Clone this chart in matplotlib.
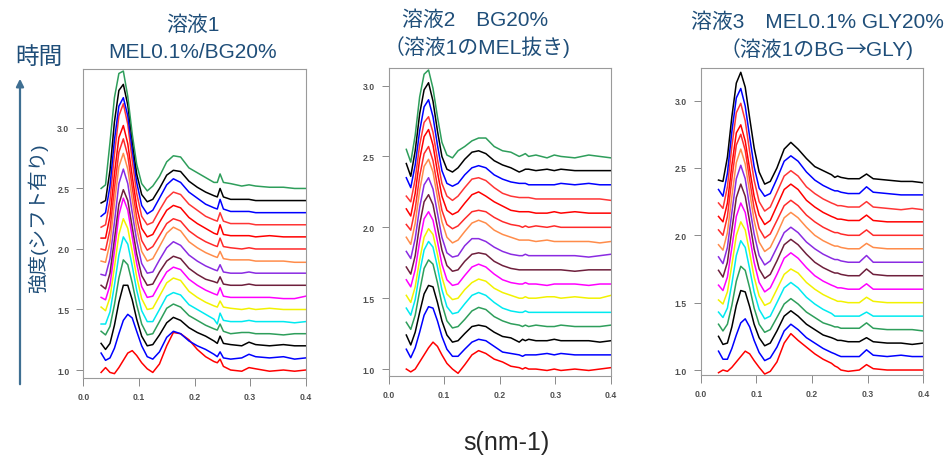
import matplotlib
matplotlib.use("Agg")
import matplotlib.pyplot as plt
from matplotlib.patches import FancyArrowPatch

plt.rcParams['font.family'] = ['Liberation Sans', 'Noto Sans CJK JP', 'DejaVu Sans']

# scattering vector s (nm-1) at which every curve is sampled
s_knots = [0.032, 0.040, 0.048, 0.056, 0.064, 0.072, 0.080, 0.088, 0.096, 0.105,
           0.115, 0.125, 0.137, 0.150, 0.162, 0.175, 0.190, 0.205, 0.220, 0.235,
           0.241, 0.246, 0.252, 0.265, 0.285, 0.298, 0.310, 0.335, 0.360, 0.380, 0.400]

# vertical shift of each successive curve (time order, bottom to top)
offsets = [1.0, 1.1, 1.2, 1.3, 1.4, 1.5, 1.6, 1.7, 1.8, 1.9, 2.0, 2.1, 2.2, 2.3, 2.4, 2.5]

# ---- 溶液1 : intensity above each curve's shift ----
p1_100 = [-0.02, 0.02, -0.02, -0.03, 0.02, 0.08, 0.14, 0.16, 0.12, 0.06, 0.01, -0.02, 0.05, 0.20, 0.31, 0.30, 0.25, 0.17, 0.11, 0.07, 0.06, 0.09, 0.03, 0.00, -0.01, 0.02, 0.01, -0.01, 0.00, -0.01, 0.00]
p1_110 = [0.04, -0.02, 0.00, 0.08, 0.20, 0.31, 0.36, 0.33, 0.22, 0.10, 0.01, -0.01, 0.05, 0.17, 0.22, 0.20, 0.14, 0.10, 0.07, 0.03, 0.01, 0.05, 0.00, -0.01, 0.00, 0.03, 0.01, 0.00, 0.01, -0.01, 0.00]
p1_120 = [0.02, -0.03, 0.02, 0.17, 0.36, 0.50, 0.50, 0.38, 0.22, 0.08, 0.00, 0.01, 0.09, 0.19, 0.235, 0.21, 0.15, 0.11, 0.08, 0.04, 0.02, 0.08, 0.02, 0.01, 0.00, 0.03, 0.01, 0.00, 0.01, 0.00, 0.00]
p1_130 = [0.02, -0.01, 0.06, 0.24, 0.46, 0.61, 0.57, 0.42, 0.24, 0.08, -0.01, 0.00, 0.10, 0.21, 0.245, 0.22, 0.15, 0.11, 0.07, 0.04, 0.03, 0.08, 0.02, 0.00, 0.01, 0.01, 0.00, 0.00, -0.01, 0.00, 0.00]
p1_140 = [-0.02, -0.02, 0.08, 0.30, 0.55, 0.70, 0.64, 0.46, 0.26, 0.09, 0.00, 0.00, 0.10, 0.21, 0.24, 0.22, 0.14, 0.10, 0.06, 0.02, -0.02, 0.07, 0.01, 0.00, 0.00, 0.01, 0.00, 0.00, 0.00, -0.01, 0.00]
p1_150 = [0.02, -0.01, 0.10, 0.35, 0.62, 0.75, 0.67, 0.48, 0.27, 0.09, 0.00, 0.01, 0.11, 0.22, 0.26, 0.24, 0.15, 0.10, 0.06, 0.03, 0.02, 0.07, 0.02, 0.01, 0.00, 0.01, 0.00, 0.01, 0.00, 0.00, 0.00]
p1_160 = [0.00, -0.02, 0.10, 0.38, 0.68, 0.82, 0.72, 0.50, 0.28, 0.09, 0.00, 0.01, 0.11, 0.21, 0.25, 0.23, 0.15, 0.10, 0.06, 0.03, 0.02, 0.08, 0.01, 0.00, 0.00, 0.00, 0.00, 0.00, -0.01, -0.01, 0.01]
p1_170 = [0.00, -0.03, 0.10, 0.38, 0.67, 0.79, 0.70, 0.48, 0.26, 0.08, 0.00, 0.01, 0.11, 0.20, 0.24, 0.22, 0.14, 0.09, 0.05, 0.03, 0.02, 0.07, 0.01, 0.00, 0.00, 0.01, 0.00, 0.00, 0.00, 0.00, 0.00]
p1_180 = [-0.01, -0.02, 0.12, 0.42, 0.74, 0.86, 0.74, 0.50, 0.27, 0.08, 0.00, 0.01, 0.11, 0.21, 0.26, 0.23, 0.15, 0.10, 0.06, 0.03, 0.02, 0.07, 0.01, 0.00, 0.00, 0.01, 0.00, 0.00, 0.00, 0.00, 0.00]
p1_190 = [0.00, -0.01, 0.15, 0.48, 0.78, 0.89, 0.76, 0.51, 0.27, 0.08, 0.00, 0.02, 0.12, 0.23, 0.28, 0.25, 0.16, 0.11, 0.07, 0.04, 0.03, 0.08, 0.02, 0.01, 0.01, 0.01, 0.00, 0.00, 0.00, -0.01, -0.01]
p1_200 = [0.00, -0.01, 0.16, 0.50, 0.80, 0.91, 0.77, 0.51, 0.26, 0.07, -0.01, 0.02, 0.11, 0.21, 0.25, 0.23, 0.15, 0.10, 0.06, 0.03, 0.02, 0.09, 0.02, 0.01, 0.00, 0.01, 0.00, 0.00, 0.00, 0.00, 0.00]
p1_210 = [-0.01, -0.01, 0.17, 0.52, 0.82, 0.92, 0.77, 0.50, 0.25, 0.07, 0.00, 0.02, 0.12, 0.22, 0.26, 0.24, 0.16, 0.11, 0.07, 0.03, 0.02, 0.10, 0.02, 0.01, 0.01, 0.01, 0.00, 0.01, 0.00, 0.00, 0.00]
p1_220 = [-0.02, 0.00, 0.20, 0.58, 0.90, 1.00, 0.83, 0.53, 0.26, 0.07, 0.00, 0.02, 0.12, 0.22, 0.27, 0.25, 0.17, 0.12, 0.07, 0.04, 0.03, 0.10, 0.03, 0.01, 0.01, 0.01, 0.00, 0.00, 0.00, 0.00, 0.00]
p1_230 = [-0.03, 0.00, 0.22, 0.60, 0.88, 0.95, 0.80, 0.52, 0.25, 0.06, -0.01, 0.02, 0.12, 0.23, 0.28, 0.25, 0.17, 0.12, 0.07, 0.04, 0.03, 0.11, 0.03, 0.01, 0.01, 0.01, 0.00, 0.00, 0.00, 0.00, 0.00]
p1_240 = [-0.02, 0.00, 0.25, 0.65, 0.91, 0.96, 0.79, 0.50, 0.22, 0.05, -0.01, 0.01, 0.10, 0.21, 0.25, 0.24, 0.16, 0.11, 0.07, 0.04, 0.03, 0.10, 0.03, 0.01, 0.01, 0.01, 0.00, 0.00, 0.00, 0.00, 0.00]
p1_250 = [0.00, 0.03, 0.38, 0.75, 0.95, 0.97, 0.76, 0.45, 0.20, 0.04, -0.02, 0.02, 0.10, 0.22, 0.27, 0.26, 0.17, 0.13, 0.09, 0.05, 0.05, 0.12, 0.05, 0.04, 0.02, 0.03, 0.02, 0.01, 0.01, 0.00, 0.00]

# ---- 溶液2 ----
p2_100 = [0.00, -0.02, 0.00, 0.05, 0.10, 0.15, 0.19, 0.16, 0.10, 0.04, 0.00, -0.03, 0.03, 0.10, 0.13, 0.11, 0.07, 0.05, 0.02, 0.01, 0.00, 0.01, 0.00, 0.00, -0.01, 0.00, -0.01, 0.00, -0.01, 0.00, 0.01]
p2_110 = [0.04, -0.02, 0.05, 0.16, 0.28, 0.34, 0.33, 0.24, 0.13, 0.04, -0.01, -0.01, 0.04, 0.09, 0.11, 0.10, 0.06, 0.02, 0.01, 0.00, -0.01, 0.00, 0.00, 0.00, 0.01, 0.00, 0.01, 0.00, 0.00, 0.00, 0.00]
p2_120 = [0.04, -0.03, 0.06, 0.20, 0.33, 0.39, 0.38, 0.27, 0.14, 0.04, -0.01, 0.00, 0.05, 0.10, 0.11, 0.10, 0.06, 0.03, 0.02, -0.01, 0.01, 0.00, 0.01, 0.00, 0.00, 0.01, 0.00, 0.00, 0.00, -0.01, 0.00]
p2_130 = [0.03, -0.02, 0.08, 0.25, 0.41, 0.47, 0.44, 0.31, 0.16, 0.04, -0.01, 0.00, 0.05, 0.11, 0.135, 0.12, 0.07, 0.04, 0.02, 0.01, 0.00, 0.01, 0.00, 0.01, 0.00, 0.00, 0.01, 0.00, 0.00, 0.00, 0.01]
p2_140 = [0.03, -0.02, 0.09, 0.28, 0.44, 0.50, 0.46, 0.32, 0.16, 0.04, -0.01, 0.00, 0.06, 0.12, 0.14, 0.12, 0.07, 0.03, 0.01, 0.00, 0.00, 0.01, 0.00, 0.00, 0.00, 0.00, 0.00, 0.00, 0.00, 0.00, 0.00]
p2_150 = [0.02, -0.03, 0.08, 0.27, 0.43, 0.49, 0.45, 0.31, 0.15, 0.03, -0.01, 0.00, 0.06, 0.11, 0.135, 0.12, 0.07, 0.04, 0.02, 0.00, 0.00, 0.01, 0.00, 0.00, 0.01, 0.01, 0.00, 0.01, 0.00, 0.00, 0.02]
p2_160 = [0.03, -0.02, 0.10, 0.30, 0.46, 0.51, 0.45, 0.30, 0.14, 0.03, -0.01, 0.00, 0.06, 0.12, 0.14, 0.12, 0.07, 0.03, 0.01, 0.00, 0.00, 0.01, 0.00, 0.00, -0.01, 0.00, 0.00, 0.00, -0.01, 0.00, 0.00]
p2_170 = [0.02, -0.03, 0.10, 0.32, 0.48, 0.53, 0.46, 0.30, 0.14, 0.03, -0.01, 0.00, 0.06, 0.11, 0.12, 0.11, 0.06, 0.03, 0.01, 0.00, 0.00, 0.00, 0.00, 0.00, 0.00, 0.00, 0.00, -0.01, 0.00, 0.00, 0.00]
p2_180 = [0.03, -0.02, 0.12, 0.34, 0.50, 0.55, 0.47, 0.30, 0.13, 0.02, -0.01, 0.00, 0.07, 0.12, 0.12, 0.10, 0.06, 0.03, 0.01, 0.00, 0.00, 0.01, 0.00, 0.00, 0.00, 0.00, 0.00, 0.00, -0.01, 0.00, 0.01]
p2_190 = [0.03, -0.02, 0.13, 0.36, 0.53, 0.58, 0.49, 0.31, 0.14, 0.03, -0.01, 0.01, 0.07, 0.13, 0.15, 0.13, 0.08, 0.05, 0.03, 0.01, 0.01, 0.01, 0.01, 0.00, 0.01, 0.00, 0.00, 0.00, 0.00, -0.01, 0.00]
p2_200 = [0.02, -0.02, 0.13, 0.36, 0.52, 0.57, 0.47, 0.29, 0.12, 0.02, -0.01, 0.01, 0.06, 0.11, 0.12, 0.11, 0.07, 0.04, 0.02, 0.01, 0.00, 0.01, 0.00, 0.01, 0.00, 0.01, 0.00, 0.00, 0.00, 0.00, 0.00]
p2_210 = [0.03, -0.02, 0.14, 0.38, 0.54, 0.59, 0.48, 0.29, 0.12, 0.02, -0.01, 0.01, 0.07, 0.13, 0.15, 0.12, 0.08, 0.05, 0.02, 0.01, 0.01, 0.01, 0.01, 0.00, 0.00, 0.01, 0.00, 0.01, 0.00, 0.00, 0.00]
p2_220 = [0.02, -0.02, 0.14, 0.38, 0.54, 0.58, 0.47, 0.28, 0.11, 0.02, -0.01, 0.02, 0.08, 0.14, 0.15, 0.13, 0.08, 0.04, 0.02, 0.01, 0.01, 0.01, 0.01, 0.00, 0.00, 0.00, 0.00, 0.00, 0.00, 0.00, -0.01]
p2_230 = [0.05, -0.02, 0.14, 0.38, 0.55, 0.60, 0.48, 0.28, 0.10, 0.01, -0.01, 0.01, 0.07, 0.12, 0.135, 0.12, 0.07, 0.04, 0.02, 0.01, 0.01, 0.01, 0.00, 0.00, 0.00, 0.00, 0.01, 0.00, 0.01, 0.00, 0.00]
p2_240 = [0.05, -0.04, 0.14, 0.40, 0.57, 0.62, 0.49, 0.28, 0.10, 0.01, -0.01, 0.02, 0.08, 0.13, 0.14, 0.12, 0.07, 0.04, 0.02, -0.01, 0.00, 0.01, 0.01, 0.00, 0.01, 0.00, 0.01, 0.00, 0.00, 0.00, 0.00]
p2_250 = [0.05, -0.04, 0.15, 0.42, 0.58, 0.61, 0.48, 0.28, 0.10, 0.01, -0.01, 0.04, 0.07, 0.11, 0.13, 0.13, 0.07, 0.04, 0.03, 0.00, 0.01, 0.02, 0.00, 0.01, -0.01, 0.01, 0.00, -0.01, 0.01, 0.00, -0.01]

# ---- 溶液3 ----
p3_100 = [-0.02, 0.00, -0.01, 0.02, 0.06, 0.10, 0.14, 0.12, 0.07, 0.02, -0.03, -0.01, 0.06, 0.20, 0.27, 0.22, 0.17, 0.12, 0.08, 0.05, 0.03, 0.02, 0.00, -0.01, 0.00, 0.04, 0.01, 0.00, 0.00, 0.00, 0.00]
p3_110 = [0.04, -0.02, -0.02, 0.06, 0.16, 0.25, 0.28, 0.22, 0.12, 0.03, -0.03, -0.01, 0.07, 0.19, 0.24, 0.20, 0.14, 0.10, 0.06, 0.03, 0.02, 0.01, 0.00, 0.00, 0.00, 0.05, 0.01, 0.00, 0.01, 0.00, 0.00]
p3_120 = [0.05, -0.01, 0.00, 0.12, 0.28, 0.39, 0.38, 0.27, 0.14, 0.04, -0.02, 0.00, 0.09, 0.20, 0.24, 0.20, 0.14, 0.10, 0.06, 0.04, 0.03, 0.02, 0.02, 0.01, 0.01, 0.04, 0.01, 0.00, 0.00, -0.01, 0.00]
p3_130 = [0.04, -0.01, 0.04, 0.18, 0.36, 0.47, 0.44, 0.31, 0.16, 0.04, -0.02, 0.00, 0.09, 0.19, 0.23, 0.19, 0.13, 0.09, 0.05, 0.03, 0.02, 0.02, 0.01, 0.01, 0.01, 0.05, 0.01, 0.00, 0.00, 0.00, -0.01]
p3_140 = [0.03, -0.01, 0.06, 0.24, 0.45, 0.56, 0.51, 0.35, 0.18, 0.05, -0.02, 0.00, 0.10, 0.21, 0.25, 0.21, 0.14, 0.09, 0.05, 0.02, 0.00, 0.00, 0.00, 0.00, 0.00, 0.03, 0.00, 0.00, 0.00, 0.00, 0.00]
p3_150 = [0.02, -0.01, 0.08, 0.28, 0.50, 0.60, 0.54, 0.37, 0.19, 0.05, -0.02, 0.00, 0.10, 0.21, 0.25, 0.22, 0.15, 0.10, 0.06, 0.03, 0.02, 0.01, 0.01, 0.00, 0.00, 0.04, 0.01, 0.00, 0.00, 0.00, 0.00]
p3_160 = [0.03, -0.01, 0.09, 0.31, 0.54, 0.64, 0.57, 0.39, 0.20, 0.05, -0.02, 0.01, 0.11, 0.23, 0.27, 0.23, 0.16, 0.10, 0.06, 0.03, 0.02, 0.01, 0.01, 0.00, 0.00, 0.04, 0.00, 0.00, 0.00, 0.00, 0.00]
p3_170 = [0.04, -0.01, 0.10, 0.34, 0.58, 0.68, 0.59, 0.40, 0.20, 0.05, -0.02, 0.01, 0.11, 0.23, 0.27, 0.23, 0.16, 0.10, 0.06, 0.03, 0.02, 0.02, 0.01, 0.00, 0.00, 0.05, 0.01, 0.00, 0.00, 0.00, 0.00]
p3_180 = [0.04, -0.01, 0.11, 0.37, 0.62, 0.72, 0.62, 0.41, 0.21, 0.05, -0.02, 0.01, 0.11, 0.22, 0.26, 0.22, 0.15, 0.10, 0.06, 0.03, 0.02, 0.02, 0.01, 0.00, 0.00, 0.05, 0.00, 0.00, 0.00, 0.00, 0.00]
p3_190 = [0.03, -0.01, 0.12, 0.39, 0.64, 0.74, 0.63, 0.42, 0.21, 0.05, -0.02, 0.01, 0.11, 0.23, 0.27, 0.23, 0.16, 0.10, 0.06, 0.03, 0.02, 0.02, 0.01, 0.00, 0.00, 0.04, 0.01, 0.00, 0.00, 0.00, 0.00]
p3_200 = [0.04, 0.00, 0.14, 0.42, 0.67, 0.75, 0.63, 0.41, 0.20, 0.05, -0.02, 0.01, 0.11, 0.22, 0.26, 0.22, 0.15, 0.10, 0.06, 0.03, 0.02, 0.02, 0.01, 0.00, 0.00, 0.04, 0.00, 0.00, 0.00, 0.00, 0.00]
p3_210 = [0.04, 0.00, 0.14, 0.42, 0.66, 0.72, 0.60, 0.39, 0.19, 0.05, -0.02, 0.01, 0.12, 0.24, 0.28, 0.24, 0.16, 0.11, 0.07, 0.04, 0.03, 0.02, 0.02, 0.01, 0.01, 0.05, 0.01, 0.00, 0.00, 0.00, 0.00]
p3_220 = [0.04, 0.00, 0.16, 0.46, 0.71, 0.78, 0.65, 0.42, 0.21, 0.05, -0.02, 0.01, 0.12, 0.24, 0.28, 0.24, 0.16, 0.11, 0.07, 0.04, 0.03, 0.02, 0.02, 0.01, 0.01, 0.05, 0.01, 0.00, -0.01, 0.00, -0.01]
p3_230 = [0.04, -0.01, 0.16, 0.47, 0.72, 0.79, 0.66, 0.43, 0.21, 0.05, -0.01, 0.01, 0.12, 0.25, 0.29, 0.25, 0.17, 0.11, 0.07, 0.04, 0.03, 0.03, 0.02, 0.01, 0.01, 0.06, 0.02, 0.01, 0.00, 0.00, 0.00]
p3_240 = [0.01, 0.00, 0.18, 0.48, 0.73, 0.81, 0.70, 0.47, 0.25, 0.07, -0.02, 0.00, 0.10, 0.24, 0.29, 0.24, 0.17, 0.11, 0.08, 0.05, 0.03, 0.04, 0.03, 0.02, 0.02, 0.055, 0.02, 0.01, 0.00, 0.00, -0.01]

# trace colours, bottom to top
trace_colors = ['#ff0000', '#0000ff', '#000000', '#2e9e5b', '#00eaf0', '#f2f200',
                '#ff00ff', '#6e1f3c', '#8a2be2', '#ff8c4a', '#ff2a2a', '#ff0000',
                '#ff3535', '#0000ff', '#000000', '#2e9e5b']

panels = [
    dict(rect=[83.3 / 951, 1 - 379 / 460, 222.4 / 951, 309 / 460], ylim=(0.934, 3.487),
         curves=[p1_100, p1_110, p1_120, p1_130, p1_140, p1_150, p1_160, p1_170,
                 p1_180, p1_190, p1_200, p1_210, p1_220, p1_230, p1_240, p1_250]),
    dict(rect=[388.5 / 951, 1 - 377 / 460, 222.5 / 951, 308 / 460], ylim=(0.951, 3.124),
         curves=[p2_100, p2_110, p2_120, p2_130, p2_140, p2_150, p2_160, p2_170,
                 p2_180, p2_190, p2_200, p2_210, p2_220, p2_230, p2_240, p2_250]),
    dict(rect=[700.7 / 951, 1 - 376 / 460, 222.6 / 951, 307 / 460], ylim=(0.963, 3.242),
         curves=[p3_100, p3_110, p3_120, p3_130, p3_140, p3_150, p3_160, p3_170,
                 p3_180, p3_190, p3_200, p3_210, p3_220, p3_230, p3_240]),
]

x_ticks = [0.0, 0.1, 0.2, 0.3, 0.4]
y_ticks = [1.0, 1.5, 2.0, 2.5, 3.0]

fig = plt.figure(figsize=(9.51, 4.60), dpi=100)

for p in panels:
    ax = fig.add_axes(p['rect'])
    for i, delta in enumerate(p['curves']):
        y = [offsets[i] + d for d in delta]
        ax.plot(s_knots, y, color=trace_colors[i], lw=1.1, solid_joinstyle='round')
    ax.set_xlim(0.0, 0.4)
    ax.set_ylim(*p['ylim'])
    ax.set_xticks(x_ticks)
    ax.set_xticklabels([f'{v:.1f}' for v in x_ticks], fontweight='bold')
    ax.set_yticks(y_ticks)
    ax.set_yticklabels([f'{v:.1f}' for v in y_ticks], fontweight='bold')
    ax.tick_params(axis='x', direction='out', length=6, width=0.7, colors='#8a8a8a',
                   labelsize=6.2, labelcolor='#505050', pad=4)
    ax.tick_params(axis='y', direction='out', length=5, width=0.7, colors='#8a8a8a',
                   labelsize=6.2, labelcolor='#505050', pad=5)
    for sp in ax.spines.values():
        sp.set_color('#9a9a9a')
        sp.set_linewidth(0.8)

title_color = '#1f4e79'
fig.text(193 / 951, 1 - 25 / 460, '溶液1', ha='center', va='center', fontsize=15, color=title_color)
fig.text(193 / 951, 1 - 52 / 460, 'MEL0.1%/BG20%', ha='center', va='center', fontsize=15, color=title_color)
fig.text(475 / 951, 1 - 20 / 460, '溶液2\u3000BG20%', ha='center', va='center', fontsize=15, color=title_color)
fig.text(477 / 951, 1 - 47 / 460, '（溶液1のMEL抜き)', ha='center', va='center', fontsize=15, color=title_color)
fig.text(817 / 951, 1 - 22 / 460, '溶液3\u3000MEL0.1% GLY20%', ha='center', va='center', fontsize=15, color=title_color)

# second title line of panel 3: the arrow is set in the CJK face, the rest in the Latin one
pieces = [('（溶液1のBG', None), ('→', ['Noto Sans CJK JP']), ('GLY)', None)]
renderer = fig.canvas.get_renderer()
objs = []
for txt, fam in pieces:
    kw = dict(ha='left', va='center', fontsize=15, color=title_color)
    if fam:
        kw['family'] = fam
    objs.append(fig.text(0, 1 - 50 / 460, txt, **kw))
widths = [o.get_window_extent(renderer).width for o in objs]
x0 = 816 - sum(widths) / 2
for o, w in zip(objs, widths):
    o.set_x(x0 / 951)
    x0 += w

# time axis annotation on the left
fig.text(39 / 951, 1 - 58 / 460, '時間', ha='center', va='center', fontsize=17, color=title_color)
fig.add_artist(FancyArrowPatch((20 / 951, 1 - 388 / 460), (20 / 951, 1 - 77 / 460),
                               transform=fig.transFigure, arrowstyle='-|>',
                               mutation_scale=11, lw=1.6, color='#3f6f92'))
fig.text(38 / 951, 1 - 218 / 460, '強度(シフト有り)', ha='center', va='center', rotation=90,
         fontsize=14, color=title_color)

fig.text(506 / 951, 1 - 443 / 460, 's(nm-1)', ha='center', va='center', fontsize=18, color='#262626')

fig.savefig('out.png', dpi=100)
